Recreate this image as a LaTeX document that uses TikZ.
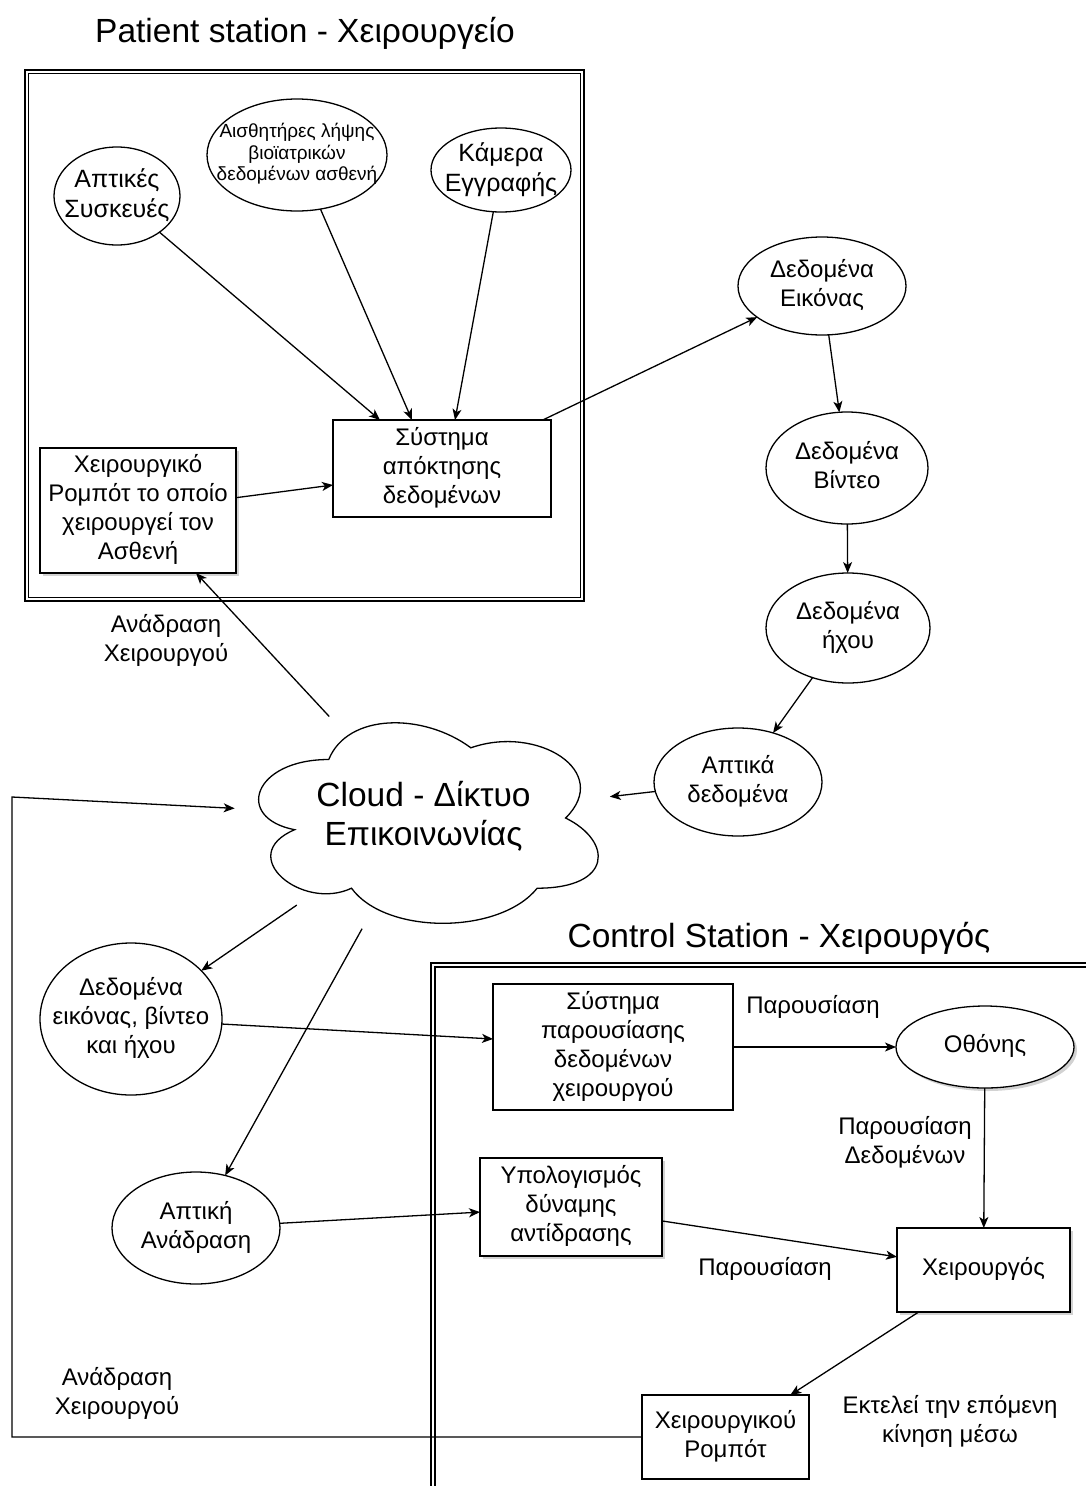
\documentclass[tikz,border=0pt]{standalone}
\usepackage{fontspec}
\setmainfont{Liberation Sans}
\usetikzlibrary{shapes.geometric,arrows.meta,calc,shadows}

% centred multi-line text that does not enlarge its node
\newcommand{\ctr}[1]{\makebox[0pt]{\raisebox{\dimexpr(\depth-\height)/2\relax}[0pt][0pt]{\begin{tabular}{@{}c@{}}#1\end{tabular}}}}

\tikzset{
  ln/.style={line width=1.3pt, draw=black},
  arr/.style={ln, -{Stealth[length=11pt,width=9pt,inset=3pt]}},
  txt/.style={font=\fontsize{24}{29}\selectfont},
  ell/.style={ellipse, draw, line width=1.3pt, inner sep=0pt, outer sep=0pt, fill=white, txt},
  boxn/.style={rectangle, draw, line width=1.3pt, inner sep=0pt, outer sep=0pt, fill=white, txt},
  shd/.style={drop shadow={shadow xshift=3pt, shadow yshift=-3pt, opacity=0.25, fill=black!70}},
  ttl/.style={font=\fontsize{33.5}{40}\selectfont, inner sep=0pt},
}

\begin{document}
\begin{tikzpicture}[x=1pt,y=-1pt]
\useasboundingbox[fill=white] (0,0) rectangle (1086,1486);

% ---------------- patient station frame ----------------
\node[ttl] (ptitle) at (305,34) {\ctr{Patient station - Χειρουργείο}};
\draw[line width=1.4pt] (25,70) rectangle (584,601);
\draw[line width=1.1pt] (28.5,73.5) rectangle (580.5,597.5);

\node[ell, minimum width=126pt, minimum height=98pt, font=\fontsize{25}{30}\selectfont] (hap) at (117,196) {\ctr{Απτικές\\Συσκευές}};
\node[ell, minimum width=180pt, minimum height=112pt, font=\fontsize{19}{21.5}\selectfont] (sens) at (297,155) {\ctr{Αισθητήρες λήψης\\βιοϊατρικών\\δεδομένων ασθενή}};
\node[ell, minimum width=140pt, minimum height=84pt, font=\fontsize{25}{30}\selectfont] (cam) at (501,170) {\ctr{Κάμερα\\Εγγραφής}};
\node[boxn, minimum width=218pt, minimum height=97pt] (acq) at (442,468.5) {\ctr{Σύστημα\\απόκτησης\\δεδομένων}};
\node[boxn, shd, minimum width=196pt, minimum height=125pt] (robot) at (138,510.5) {\ctr{Χειρουργικό\\Ρομπότ το οποίο\\χειρουργεί τον\\Ασθενή}};

% ---------------- data stream ----------------
\node[ell, minimum width=168pt, minimum height=98pt] (img) at (822,286) {\ctr{Δεδομένα\\Εικόνας}};
\node[ell, minimum width=162pt, minimum height=112pt] (vid) at (847,468) {\ctr{Δεδομένα\\Βίντεο}};
\node[ell, minimum width=164pt, minimum height=110pt] (aud) at (848,628) {\ctr{Δεδομένα\\ήχου}};
\node[ell, minimum width=168pt, minimum height=108pt] (hapd) at (738,782) {\ctr{Απτικά\\δεδομένα}};

% ---------------- network cloud ----------------
\begin{scope}[shift={(234,701)}, x=379pt, y=-234pt]
  \draw[ln] (0.25,0.25) .. controls (0.05,0.25) and (0,0.5) .. (0.16,0.55)
    .. controls (0,0.66) and (0.18,0.9) .. (0.31,0.8)
    .. controls (0.4,1) and (0.7,1) .. (0.8,0.8)
    .. controls (1,0.8) and (1,0.6) .. (0.875,0.5)
    .. controls (1,0.3) and (0.8,0.1) .. (0.625,0.2)
    .. controls (0.5,0.05) and (0.3,0.05) .. (0.25,0.25) -- cycle;
\end{scope}
\node[ellipse, inner sep=0pt, outer sep=0pt, minimum width=379pt, minimum height=234pt, font=\fontsize{33.5}{39}\selectfont] (cloud) at (423.5,818) {\ctr{Cloud - Δίκτυο\\Επικοινωνίας}};

\node[ell, minimum width=182pt, minimum height=152pt] (avd) at (131,1019) {\ctr{Δεδομένα\\εικόνας, βίντεο\\και ήχου}};
\node[ell, minimum width=168pt, minimum height=112pt] (hfb) at (196,1228) {\ctr{Απτική\\Ανάδραση}};

% ---------------- control station frame ----------------
\node[ttl] (ctitle) at (779,939) {\ctr{Control Station - Χειρουργός}};
\draw[line width=1.4pt] (431,1490) -- (431,963) -- (1090,963);
\draw[line width=1.1pt] (435,1490) -- (435,967) -- (1090,967);

\node[boxn, minimum width=240pt, minimum height=126pt] (pres) at (613,1047) {\ctr{Σύστημα\\παρουσίασης\\δεδομένων\\χειρουργού}};
\node[ell, shd, minimum width=178pt, minimum height=82pt] (scr) at (985,1047) {\ctr{Οθόνης}};
\node[boxn, shd, minimum width=182pt, minimum height=98pt] (calc) at (571,1207) {\ctr{Υπολογισμός\\δύναμης\\αντίδρασης}};
\node[boxn, shd, minimum width=173pt, minimum height=84pt] (surg) at (983.5,1270) {\ctr{Χειρουργός}};
\node[boxn, minimum width=167pt, minimum height=84pt] (robot2) at (725.5,1437) {\ctr{Χειρουργικού\\Ρομπότ}};

% ---------------- edge labels ----------------
\node[txt] (fb1) at (166,641) {\ctr{Ανάδραση\\Χειρουργού}};
\node[txt] (fb2) at (117,1394) {\ctr{Ανάδραση\\Χειρουργού}};
\node[txt] (p1) at (813,1008) {\ctr{Παρουσίαση}};
\node[txt] (p2) at (905,1143) {\ctr{Παρουσίαση\\Δεδομένων}};
\node[txt] (p3) at (765,1270) {\ctr{Παρουσίαση}};
\node[txt] (ex) at (950,1422) {\ctr{Εκτελεί την επόμενη\\κίνηση μέσω}};

% ---------------- connectors ----------------
\draw[arr] (hap) -- ($(acq.north west)+(47,0)$);
\draw[arr] (sens) -- ($(acq.north west)+(79,0)$);
\draw[arr] (cam) -- ($(acq.north west)+(122,0)$);
\draw[arr] (robot) -- ($(acq.south west)+(0,-32)$);
\draw[arr] (acq) -- (img);
\draw[arr] (img) -- (vid);
\draw[arr] (vid) -- (aud);
\draw[arr] (aud) -- (hapd);
\draw[arr] (hapd) -- (cloud);
\draw[arr] (cloud) -- (robot);
\draw[arr] (cloud) -- (avd);
\draw[arr] (cloud) -- (hfb);
\draw[arr] (avd) -- ($(pres.west)+(0,-8)$);
\draw[arr] (pres) -- (scr);
\draw[arr] (scr) -- (surg);
\draw[arr] (hfb) -- (calc);
\draw[arr] (calc) -- (surg);
\draw[arr] (surg) -- (robot2);
\coordinate (lpT) at (12,797);
\draw[arr] (robot2.west) -- (robot2.west -| lpT) -- (lpT) -- (cloud);
\end{tikzpicture}
\end{document}
